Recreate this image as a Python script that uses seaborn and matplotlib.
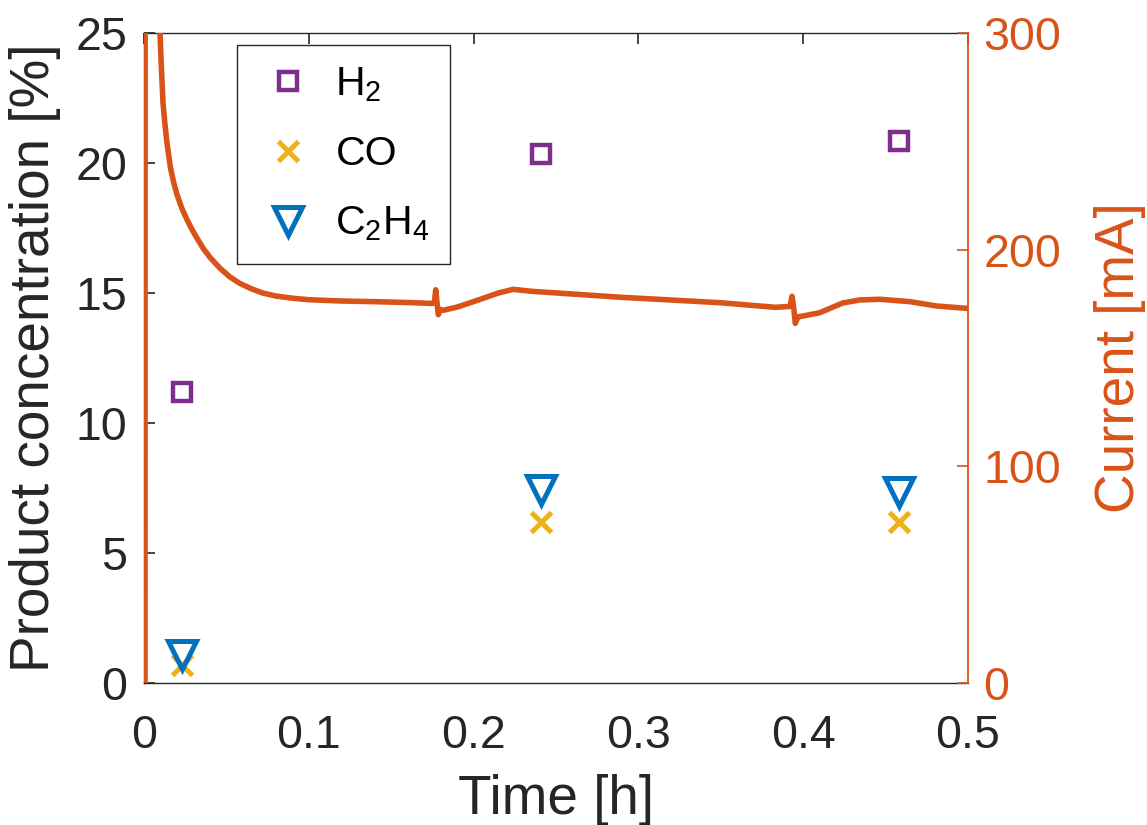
import numpy as np
import pandas as pd
import matplotlib
matplotlib.use("Agg")
import matplotlib.pyplot as plt
import seaborn as sns

# ---- data -------------------------------------------------------------
sample_time_h = [0.0231, 0.2409, 0.4581]
h2_pct = [11.2, 20.35, 20.85]
co_pct = [0.71, 6.19, 6.19]
c2h4_pct = [1.08, 7.44, 7.35]

time_h = [0.0006, 0.0008, 0.0097, 0.0105, 0.0115, 0.0127, 0.0140, 0.0160,
          0.0180, 0.0200, 0.0230, 0.0260, 0.0290, 0.0320, 0.0360, 0.0400,
          0.0460, 0.0520, 0.0580, 0.0650, 0.0720, 0.0800, 0.0900, 0.1000,
          0.1200, 0.1400, 0.1600, 0.1740, 0.1762, 0.1770, 0.1778, 0.1786,
          0.1797, 0.1815, 0.1900, 0.2030, 0.2150, 0.2240, 0.2350, 0.2546,
          0.2900, 0.3190, 0.3500, 0.3830, 0.3920, 0.3932, 0.3942, 0.3952,
          0.3968, 0.4000, 0.4100, 0.4240, 0.4345, 0.4466, 0.4648, 0.4810,
          0.4994]
current_mA = [0, 600, 300, 285, 268, 258, 249, 238,
              231, 225.5, 219, 214, 209.5, 205.5, 200.5, 196.5,
              191.5, 187.5, 184.5, 182, 180, 178.6, 177.6, 176.9,
              176.3, 176.0, 175.6, 175.2, 175.4, 181.5, 175.5, 170.0,
              172.4, 172.0, 173.5, 176.8, 180.0, 181.7, 180.8, 179.8,
              178.0, 176.8, 175.5, 173.4, 173.8, 178.5, 173.5, 166.0,
              169.0, 169.4, 170.9, 175.4, 176.8, 177.1, 176.0, 174.0,
              172.9]

x_ticks = [0, 0.1, 0.2, 0.3, 0.4, 0.5]
x_tick_labels = ["0", "0.1", "0.2", "0.3", "0.4", "0.5"]
left_ticks = [0, 5, 10, 15, 20, 25]
right_ticks = [0, 100, 200, 300]
series_labels = ["H$_2$", "CO", "C$_2$H$_4$"]

# ---- style ------------------------------------------------------------
sns.set_theme(style="white")
plt.rcParams["font.family"] = ["Liberation Sans", "DejaVu Sans"]
plt.rcParams["mathtext.fontset"] = "custom"
plt.rcParams["mathtext.rm"] = "Liberation Sans"
plt.rcParams["mathtext.it"] = "Liberation Sans:italic"
plt.rcParams["mathtext.default"] = "regular"

DARK = "#262626"
ORANGE = "#D95319"
PURPLE = "#7E2F8E"
YELLOW = "#EDB120"
BLUE = "#0072BD"

TICK_FS = 33.5
LABEL_FS = 39.5
LEGEND_FS = 29.5

fig = plt.figure(figsize=(11.47, 8.25), dpi=100)
ax = fig.add_axes([144 / 1147, 1 - 683 / 825, 824 / 1147, 650 / 825])
ax2 = ax.twinx()

# ---- product concentrations (left axis) -------------------------------
products = pd.DataFrame({
    "t": sample_time_h * 3,
    "conc": h2_pct + co_pct + c2h4_pct,
    "gas": ["H2"] * 3 + ["CO"] * 3 + ["C2H4"] * 3,
})
marker_specs = {
    "H2": dict(marker="s", color=PURPLE, ms=13, mew=3.2),
    "CO": dict(marker="x", color=YELLOW, ms=14, mew=3.6),
    "C2H4": dict(marker="v", color=BLUE, ms=20, mew=3.6),
}
handles = []
for gas, spec in marker_specs.items():
    sub = products[products["gas"] == gas]
    sns.lineplot(data=sub, x="t", y="conc", ax=ax, estimator=None, sort=False,
                 linestyle="none", marker=spec["marker"], color=spec["color"],
                 markersize=spec["ms"], markeredgewidth=spec["mew"],
                 markeredgecolor=spec["color"], markerfacecolor="none",
                 legend=False, zorder=3)
    handles.append(ax.lines[-1])

# ---- cell current (right axis) ----------------------------------------
current = pd.DataFrame({"t": time_h, "I": current_mA})
sns.lineplot(data=current, x="t", y="I", ax=ax2, estimator=None, sort=False,
             color=ORANGE, linewidth=4.0, legend=False)
ax2.lines[-1].set_solid_joinstyle("round")

# ---- axes -------------------------------------------------------------
ax.set_xlim(0, 0.5)
ax.set_ylim(0, 25)
ax2.set_ylim(0, 300)
ax.set_xticks(x_ticks)
ax.set_xticklabels(x_tick_labels)
ax.set_yticks(left_ticks)
ax.set_yticklabels([str(v) for v in left_ticks])
ax2.set_yticks(right_ticks)
ax2.set_yticklabels([str(v) for v in right_ticks])

ax.tick_params(axis="x", direction="in", length=8, width=1.2, color=DARK,
               labelcolor=DARK, labelsize=TICK_FS, pad=22, top=True)
ax.tick_params(axis="y", direction="in", length=8, width=1.2, color=DARK,
               labelcolor=DARK, labelsize=TICK_FS, pad=12, right=False)
ax2.tick_params(axis="y", direction="in", length=8, width=1.2, color=ORANGE,
                labelcolor=ORANGE, labelsize=TICK_FS, pad=11)

for name in ["left", "bottom", "top"]:
    ax.spines[name].set_color(DARK)
    ax.spines[name].set_linewidth(1.0)
ax.spines["right"].set_visible(False)
for name in ["left", "bottom", "top"]:
    ax2.spines[name].set_visible(False)
ax2.spines["right"].set_color(ORANGE)
ax2.spines["right"].set_linewidth(1.3)

ax.set_xlabel("Time [h]", fontsize=LABEL_FS, color=DARK)
ax.set_ylabel("Product concentration [%]", fontsize=LABEL_FS, color=DARK)
ax2.set_ylabel("Current [mA]", fontsize=LABEL_FS, color=ORANGE)
ax.xaxis.set_label_coords(0.5, -0.140)
ax.yaxis.set_label_coords(-0.1007, 0.5)
ax2.yaxis.set_label_coords(1.153, 0.5)

leg = ax2.legend(handles, series_labels, loc="upper left",
                 bbox_to_anchor=(0.113, 0.982), borderaxespad=0,
                 fontsize=LEGEND_FS, frameon=True, fancybox=False,
                 borderpad=0.5, handlelength=1.46, handletextpad=0.44,
                 labelspacing=0.77, framealpha=1)
leg.get_frame().set_edgecolor(DARK)
leg.get_frame().set_linewidth(1.0)
for txt in leg.get_texts():
    txt.set_color("black")

fig.savefig("out.png", dpi=100)
